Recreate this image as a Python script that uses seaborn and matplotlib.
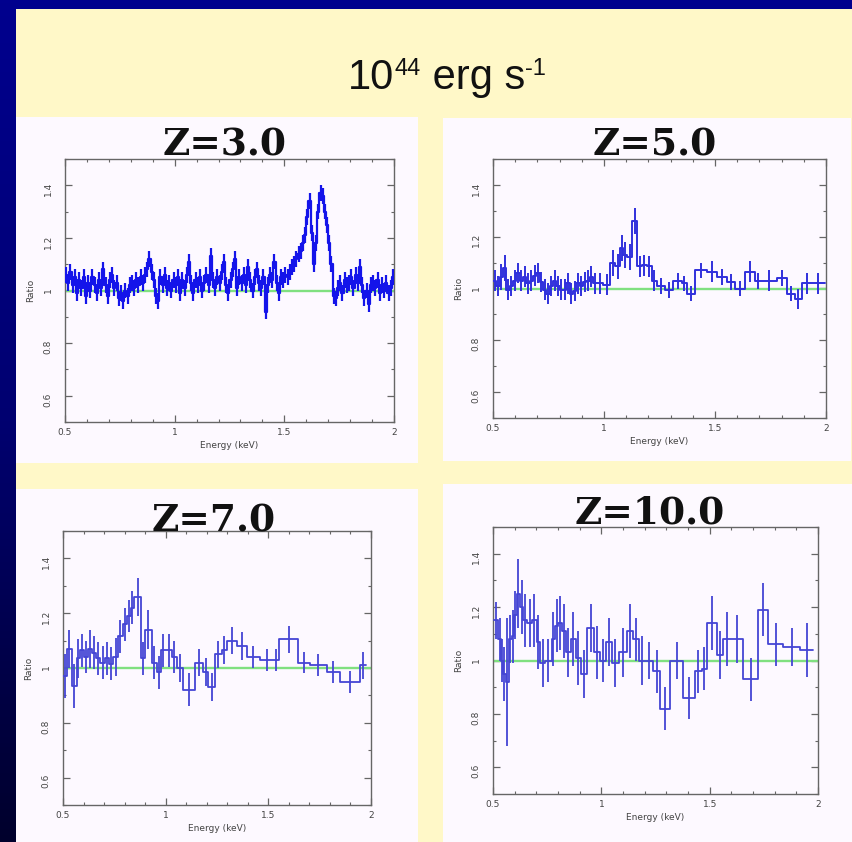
import numpy as np
import pandas as pd
import seaborn as sns
import matplotlib.pyplot as plt
from matplotlib.patches import Rectangle
from matplotlib.colors import LinearSegmentedColormap
from matplotlib.ticker import MultipleLocator, FuncFormatter
from matplotlib.transforms import IdentityTransform

W, H = 853, 842

# ---- data (energy bins in keV, ratio, half error) ----
# Z=3.0 : fine 0.01 keV bins between 0.5 and 2.0 keV
z3_range = (0.5, 2.0)
z3_binw = 0.01
z3_ratio = [
    1.06, 1.03, 1.07, 1.02, 1.05, 0.99, 1.04, 1.01, 1.05, 0.98,
    1.03, 1.00, 1.05, 1.02, 0.99, 1.04, 1.01, 1.08, 1.02, 0.98,
    1.04, 1.06, 1.01, 1.03, 0.97, 0.99, 0.96, 1.00, 0.98, 1.02,
    1.03, 1.01, 1.04, 1.02, 1.05, 1.03, 1.06, 1.08, 1.12, 1.07,
    1.04, 0.98, 0.96, 1.05, 1.02, 1.06, 1.01, 1.03, 1.00, 1.04,
    1.02, 1.05, 0.99, 1.04, 1.01, 1.06, 1.11, 1.03, 0.99, 1.04,
    1.02, 1.05, 1.00, 1.03, 1.06, 1.02, 1.13, 1.04, 1.01, 1.05,
    1.03, 1.07, 1.11, 1.02, 0.99, 1.04, 1.08, 1.12, 1.01, 1.05,
    1.03, 1.06, 1.02, 1.09, 1.04, 1.00, 1.05, 1.08, 1.03, 1.01,
    1.05, 0.92, 1.02, 1.06, 1.04, 1.11, 1.03, 0.99, 1.05, 1.04,
    1.06, 1.05, 1.07, 1.09, 1.10, 1.12, 1.14, 1.15, 1.18, 1.21,
    1.28, 1.34, 1.22, 1.10, 1.18, 1.30, 1.37, 1.36, 1.30, 1.25,
    1.18, 1.10, 0.98, 0.97, 1.01, 1.03, 0.99, 1.04, 1.02, 1.03,
    1.05, 1.01, 1.06, 1.03, 1.09, 1.02, 0.97, 1.00, 0.95, 1.02,
    1.03, 1.01, 1.04, 0.99, 1.02, 1.00, 1.03, 0.99, 1.01, 1.05,
]
z3_err = 0.03

# Z=5.0
z5_edges = [
    0.50, 0.515, 0.53, 0.545, 0.56, 0.575, 0.59, 0.605, 0.62, 0.635,
    0.65, 0.665, 0.68, 0.695, 0.71, 0.725, 0.74, 0.755, 0.77, 0.785,
    0.80, 0.815, 0.83, 0.845, 0.86, 0.875, 0.89, 0.905, 0.92, 0.935,
    0.95, 0.965, 0.997, 1.027, 1.05, 1.072, 1.087, 1.105, 1.125, 1.15,
    1.17, 1.192, 1.215, 1.237, 1.275, 1.313, 1.35, 1.373, 1.41, 1.463,
    1.508, 1.553, 1.59, 1.635, 1.68, 1.71, 1.778, 1.823, 1.86, 1.89,
    1.935, 1.995,
]
z5_ratio = [
    1.03, 1.01, 1.045, 1.08, 0.995, 1.01, 1.03, 1.06, 1.03, 1.045,
    1.02, 1.03, 1.05, 1.06, 1.025, 0.995, 0.98, 1.01, 1.03, 1.01,
    0.995, 0.995, 1.02, 0.98, 0.99, 1.02, 1.01, 1.025, 1.03, 1.045,
    1.02, 1.02, 1.015, 1.10, 1.085, 1.155, 1.13, 1.12, 1.26, 1.085,
    1.09, 1.085, 1.03, 1.01, 0.995, 1.03, 1.02, 0.98, 1.07, 1.065,
    1.045, 1.025, 1.0, 1.065, 1.03, 1.03, 1.04, 0.98, 0.96, 1.02,
    1.02,
]
z5_err = [
    0.04, 0.04, 0.05, 0.05, 0.04, 0.04, 0.04, 0.04, 0.04, 0.04,
    0.04, 0.04, 0.04, 0.04, 0.04, 0.04, 0.04, 0.04, 0.04, 0.04,
    0.04, 0.04, 0.04, 0.04, 0.04, 0.04, 0.04, 0.04, 0.04, 0.04,
    0.04, 0.04, 0.04, 0.05, 0.05, 0.05, 0.05, 0.05, 0.05, 0.04,
    0.04, 0.04, 0.04, 0.03, 0.03, 0.03, 0.03, 0.03, 0.03, 0.04,
    0.03, 0.03, 0.03, 0.04, 0.03, 0.04, 0.03, 0.03, 0.04, 0.04,
    0.04,
]

# Z=7.0
z7_edges = [
    0.502, 0.518, 0.542, 0.567, 0.583, 0.602, 0.623, 0.640, 0.661, 0.680,
    0.705, 0.726, 0.745, 0.769, 0.791, 0.810, 0.830, 0.846, 0.880, 0.899,
    0.932, 0.956, 0.976, 1.002, 1.029, 1.054, 1.083, 1.143, 1.183, 1.208,
    1.240, 1.273, 1.297, 1.346, 1.394, 1.459, 1.524, 1.554, 1.646, 1.703,
    1.784, 1.849, 1.946, 1.976,
]
z7_ratio = [
    0.97, 1.07, 0.935, 1.035, 1.065, 1.04, 1.07, 1.055, 1.035, 1.02,
    1.035, 1.015, 1.04, 1.115, 1.16, 1.19, 1.22, 1.26, 1.035, 1.14,
    1.02, 0.985, 1.065, 1.065, 1.04, 1.0, 0.92, 1.02, 0.985, 0.93,
    1.05, 1.065, 1.10, 1.08, 1.04, 1.03, 1.03, 1.105, 1.02, 1.01,
    0.985, 0.95, 1.01,
]
z7_err = [
    0.08, 0.07, 0.08, 0.07, 0.06, 0.06, 0.07, 0.06, 0.06, 0.06,
    0.06, 0.06, 0.07, 0.06, 0.06, 0.06, 0.06, 0.07, 0.06, 0.07,
    0.06, 0.06, 0.06, 0.06, 0.06, 0.05, 0.06, 0.05, 0.05, 0.05,
    0.05, 0.05, 0.05, 0.05, 0.04, 0.04, 0.04, 0.05, 0.04, 0.04,
    0.04, 0.04, 0.05,
]

# Z=10.0
z10_edges = [
    0.505, 0.525, 0.537, 0.548, 0.558, 0.572, 0.586, 0.597, 0.609, 0.625,
    0.640, 0.658, 0.680, 0.702, 0.717, 0.740, 0.771, 0.786, 0.802, 0.817,
    0.837, 0.858, 0.882, 0.905, 0.935, 0.966, 0.994, 1.020, 1.049, 1.080,
    1.117, 1.148, 1.172, 1.203, 1.240, 1.271, 1.317, 1.378, 1.432, 1.463,
    1.486, 1.532, 1.563, 1.594, 1.655, 1.725, 1.771, 1.840, 1.917, 1.978,
]
z10_ratio = [
    1.15, 1.08, 1.00, 0.95, 0.92, 1.08, 1.09, 1.17, 1.25, 1.20,
    1.15, 1.14, 1.15, 1.07, 0.99, 1.00, 1.08, 1.13, 1.14, 1.11,
    1.03, 1.08, 1.01, 0.95, 1.12, 1.03, 1.00, 1.07, 0.99, 1.03,
    1.11, 1.08, 1.00, 1.00, 0.96, 0.82, 1.00, 0.86, 0.96, 0.97,
    1.14, 1.02, 1.08, 1.08, 0.93, 1.19, 1.06, 1.05, 1.04,
]
z10_err = [
    0.07, 0.08, 0.08, 0.10, 0.24, 0.09, 0.10, 0.09, 0.13, 0.10,
    0.10, 0.09, 0.10, 0.10, 0.09, 0.08, 0.10, 0.10, 0.10, 0.10,
    0.09, 0.10, 0.10, 0.09, 0.09, 0.10, 0.08, 0.09, 0.09, 0.09,
    0.10, 0.08, 0.09, 0.07, 0.08, 0.08, 0.07, 0.08, 0.08, 0.08,
    0.10, 0.09, 0.10, 0.09, 0.08, 0.10, 0.08, 0.07, 0.10,
]

z3_edges = np.round(np.arange(z3_range[0], z3_range[1] + z3_binw / 2, z3_binw), 3)

sns.set_style("ticks")
plt.rcParams["font.family"] = ["DejaVu Sans"]

yellow = "#fff8c8"
panel_bg = "#fdf9ff"
green = "#80e080"


def px(x0, y0, x1, y1):
    # pixel box (top-left origin) -> figure fraction rect
    return [x0 / W, 1 - y1 / H, (x1 - x0) / W, (y1 - y0) / H]


def draw_panel(ax, edges, vals, errs, color, lw):
    edges = np.asarray(edges, dtype=float)
    vals = np.asarray(vals, dtype=float)
    errs = np.broadcast_to(np.asarray(errs, dtype=float), vals.shape)
    step = pd.DataFrame({"energy": edges, "ratio": np.append(vals, vals[-1])})
    ax.axhline(1.0, color=green, lw=1.7, zorder=1)
    sns.lineplot(data=step, x="energy", y="ratio", drawstyle="steps-post",
                 color=color, lw=lw, estimator=None, ax=ax, zorder=3)
    mid = (edges[:-1] + edges[1:]) / 2
    ax.vlines(mid, vals - errs, vals + errs, color=color, lw=lw, zorder=3)

    ax.set_facecolor(panel_bg)
    ax.set_xlim(0.5, 2)
    ax.set_ylim(0.5, 1.5)
    ax.xaxis.set_major_locator(MultipleLocator(0.5))
    ax.xaxis.set_minor_locator(MultipleLocator(0.1))
    ax.yaxis.set_major_locator(MultipleLocator(0.2))
    ax.yaxis.set_minor_locator(MultipleLocator(0.1))
    fmt = FuncFormatter(lambda v, p: f"{v:g}")
    ax.xaxis.set_major_formatter(fmt)
    ax.yaxis.set_major_formatter(fmt)
    ax.tick_params(which="both", direction="in", top=True, right=True,
                   color="#666666", labelcolor="#444444", labelsize=6.5)
    ax.tick_params(which="major", length=5, width=0.9)
    ax.tick_params(which="minor", length=2.5, width=0.8)
    ax.tick_params(axis="y", labelrotation=90, pad=9)
    ax.tick_params(axis="x", pad=4)
    for s in ax.spines.values():
        s.set_color("#666666")
        s.set_linewidth(1.0)
    ax.set_xlabel("Energy (keV)", fontsize=6.5, color="#444444", labelpad=3)
    ax.set_ylabel("Ratio", fontsize=6.5, color="#444444", labelpad=6)


fig = plt.figure(figsize=(W / 100, H / 100), dpi=100)

# dark blue slide background
bg = fig.add_axes([0, 0, 1, 1], zorder=-10)
cmap = LinearSegmentedColormap.from_list("slide", ["#00008e", "#000070", "#00002c"])
bg.imshow(np.linspace(0, 1, 256).reshape(-1, 1), aspect="auto", cmap=cmap,
          extent=[0, 1, 0, 1])
bg.axis("off")

fig.add_artist(Rectangle((16 / W, 0), 1 - 16 / W, 1 - 9 / H, transform=fig.transFigure,
                         facecolor=yellow, edgecolor="none", zorder=-5))

panels = [
    ("Z=3.0", (16, 117, 418, 463), (65, 159, 394, 422), (225, 155),
     z3_edges, z3_ratio, z3_err, "#1414ea", 1.6),
    ("Z=5.0", (443, 118, 851, 461), (493, 159, 826, 418), (655, 155),
     z5_edges, z5_ratio, z5_err, "#3030dc", 1.4),
    ("Z=7.0", (16, 489, 418, 842), (63, 531, 371, 805), (214, 532),
     z7_edges, z7_ratio, z7_err, "#4545d4", 1.3),
    ("Z=10.0", (443, 484, 853, 842), (493, 527, 818, 794), (650, 523),
     z10_edges, z10_ratio, z10_err, "#4545d4", 1.3),
]

for title, box, axbox, tpos, edges, vals, errs, color, lw in panels:
    fig.add_artist(Rectangle((box[0] / W, 1 - box[3] / H), (box[2] - box[0]) / W,
                             (box[3] - box[1]) / H, transform=fig.transFigure,
                             facecolor=panel_bg, edgecolor="none", zorder=-4))
    ax = fig.add_axes(px(*axbox))
    draw_panel(ax, edges, vals, errs, color, lw)
    fig.text(tpos[0] / W, 1 - tpos[1] / H, title, ha="center", va="baseline",
             fontsize=27, fontweight="bold", family="DejaVu Serif",
             color="#111111", zorder=5)

# slide heading "10^44 erg s^-1" built from pieces so the superscript hyphen stays short
heading = [("10", 30, 0), ("44", 17, 14), (" erg s", 30, 0), ("-1", 17, 14)]
renderer = fig.canvas.get_renderer()
pieces = []
for txt, size, rise in heading:
    t = fig.text(0, 0, txt, fontsize=size, family="Liberation Sans", color="#111111",
                 va="baseline", ha="left", transform=IdentityTransform())
    pieces.append((t, rise, t.get_window_extent(renderer).width))
total = sum(p[2] for p in pieces)
x = 447 - total / 2
base = H - 89
for t, rise, w in pieces:
    t.set_position((x, base + rise))
    x += w

fig.savefig("out.png", dpi=100)
